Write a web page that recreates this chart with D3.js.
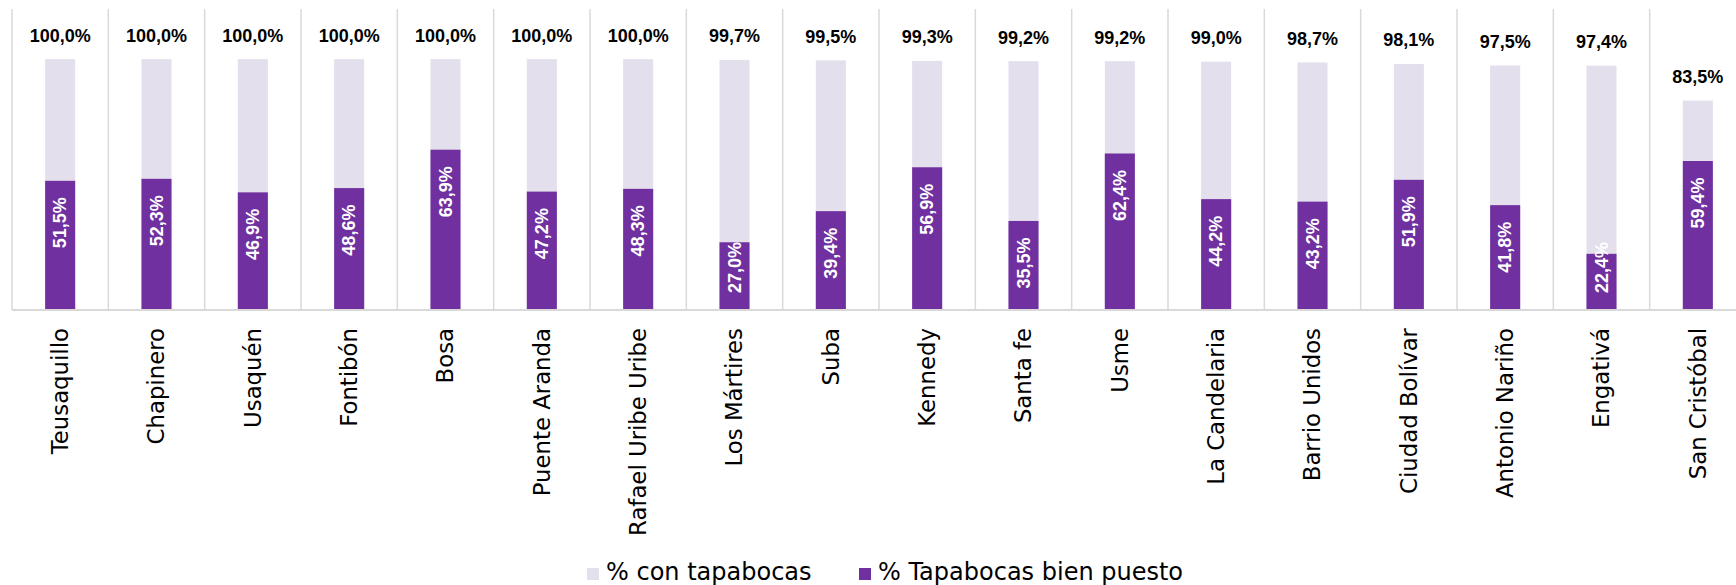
<!DOCTYPE html>
<html><head><meta charset="utf-8">
<script src="https://cdn.jsdelivr.net/npm/d3@7"></script>
<style>
html,body{margin:0;padding:0;background:#fff;}
svg{display:block;}
</style></head>
<body>
<svg id="chart" width="1736" height="585"></svg>
<script>
const categories = ["Teusaquillo","Chapinero","Usaquén","Fontibón","Bosa","Puente Aranda","Rafael Uribe Uribe","Los Mártires","Suba","Kennedy","Santa fe","Usme","La Candelaria","Barrio Unidos","Ciudad Bolívar","Antonio Nariño","Engativá","San Cristóbal"];
const conTapabocas = [100.0,100.0,100.0,100.0,100.0,100.0,100.0,99.7,99.5,99.3,99.2,99.2,99.0,98.7,98.1,97.5,97.4,83.5];
const bienPuesto = [51.5,52.3,46.9,48.6,63.9,47.2,48.3,27.0,39.4,56.9,35.5,62.4,44.2,43.2,51.9,41.8,22.4,59.4];
const seriesNames = ["% con tapabocas","% Tapabocas bien puesto"];
const yMax = 120;

const LIGHT = "#E4DFEC", DARK = "#7030A0", GRID = "#D9D9D9";
const fmt = v => v.toFixed(1).replace(".", ",") + "%";

const svg = d3.select("#chart");
const plotLeft = 12, plotRight = 1746, plotTop = 9, plotBase = 310;

const x = d3.scaleBand().domain(categories).range([plotLeft, plotRight]).padding(0);
const y = d3.scaleLinear().domain([0, yMax]).range([plotBase, plotTop]);
const bw = x.bandwidth() * 0.312;

// separators
const bounds = categories.map(c => x(c)).concat([plotRight]);
svg.append("g").selectAll("line").data(bounds).join("line")
  .attr("x1", d => d).attr("x2", d => d)
  .attr("y1", plotTop).attr("y2", plotBase)
  .attr("stroke", GRID).attr("stroke-width", 1.5);

// light bars
svg.append("g").selectAll("rect").data(categories).join("rect")
  .attr("x", (c) => x(c) + x.bandwidth()/2 - bw/2)
  .attr("width", bw)
  .attr("y", (c,i) => y(conTapabocas[i]))
  .attr("height", (c,i) => plotBase - y(conTapabocas[i]))
  .attr("fill", LIGHT);

// dark bars
svg.append("g").selectAll("rect").data(categories).join("rect")
  .attr("x", (c) => x(c) + x.bandwidth()/2 - bw/2)
  .attr("width", bw)
  .attr("y", (c,i) => y(bienPuesto[i]))
  .attr("height", (c,i) => plotBase - y(bienPuesto[i]))
  .attr("fill", DARK);

// axis baseline
svg.append("line").attr("x1", plotLeft).attr("x2", plotRight).attr("y1", plotBase).attr("y2", plotBase)
  .attr("stroke", GRID).attr("stroke-width", 2);

// top labels
svg.append("g").selectAll("text").data(categories).join("text")
  .attr("x", c => x(c) + x.bandwidth()/2)
  .attr("y", (c,i) => y(conTapabocas[i]) - 17.5)
  .attr("text-anchor", "middle")
  .attr("font-family", "Liberation Sans, Arial, sans-serif")
  .attr("font-weight", "bold").attr("font-size", 18).attr("fill", "#000")
  .text((c,i) => fmt(conTapabocas[i]));

// inside labels
const inner = svg.append("g").selectAll("text").data(categories).join("text")
  .attr("text-anchor", "start")
  .attr("dy", "0.35em")
  .attr("font-family", "Liberation Sans, Arial, sans-serif")
  .attr("font-weight", "bold").attr("font-size", 18).attr("fill", "#fff")
  .text((c,i) => fmt(bienPuesto[i]));
inner.each(function(c,i){
  const len = this.getComputedTextLength();
  const cx = x(c) + x.bandwidth()/2;
  const yb = Math.min(y(bienPuesto[i]) + 16.5 + len, plotBase - 17);
  d3.select(this).attr("transform", `translate(${cx},${yb}) rotate(-90)`);
});

// category labels
svg.append("g").selectAll("text").data(categories).join("text")
  .attr("transform", c => `translate(${x(c) + x.bandwidth()/2},328) rotate(-90)`)
  .attr("text-anchor", "end").attr("dy", "0.35em")
  .attr("font-family", "DejaVu Sans, sans-serif")
  .attr("font-size", 22.8).attr("fill", "#000")
  .text(c => c);

// legend
const lg = svg.append("g");
const legendX = [587, 859];
const legendColors = [LIGHT, DARK];
seriesNames.forEach((n, i) => {
  lg.append("rect").attr("x", legendX[i]).attr("y", 568).attr("width", 12).attr("height", 12).attr("fill", legendColors[i]);
  lg.append("text").attr("x", legendX[i] + 19).attr("y", 580)
    .attr("font-family", "DejaVu Sans, sans-serif").attr("font-size", 24).attr("fill", "#000")
    .text(n);
});
</script>
</body></html>
